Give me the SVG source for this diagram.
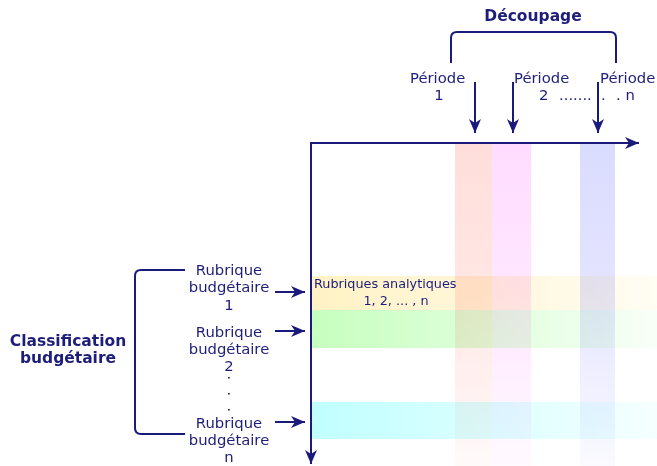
<svg xmlns="http://www.w3.org/2000/svg" width="657" height="466" viewBox="0 0 657 466">
<defs>
<style>
.ln{fill:none;stroke:#1a1a7c;stroke-width:2}
.t{font-family:"DejaVu Sans",Verdana,sans-serif;font-size:14.8px;fill:#1e1e7a}
.b{font-family:"DejaVu Sans",Verdana,sans-serif;font-size:15.5px;font-weight:bold;fill:#1e1e7a}
.s{font-family:"DejaVu Sans",Verdana,sans-serif;font-size:12.8px;fill:#1e1e7a}
.m{text-anchor:middle}
.col{mix-blend-mode:multiply}
</style>
<marker id="ah" markerUnits="userSpaceOnUse" markerWidth="16" markerHeight="14" refX="14" refY="7" orient="auto">
<path d="M0,1 L14,7 L0,13 L4,7 z" fill="#1a1a7c"/>
</marker>
<linearGradient id="gRed" x1="0" y1="0" x2="0" y2="1"><stop offset="0" stop-color="#ffdeda"/><stop offset="0.45" stop-color="#ffe6e4"/><stop offset="1" stop-color="#fffafa"/></linearGradient>
<linearGradient id="gPink" x1="0" y1="0" x2="0" y2="1"><stop offset="0" stop-color="#ffdcff"/><stop offset="0.45" stop-color="#ffe6ff"/><stop offset="1" stop-color="#fffaff"/></linearGradient>
<linearGradient id="gBlue" x1="0" y1="0" x2="0" y2="1"><stop offset="0" stop-color="#dadcff"/><stop offset="0.45" stop-color="#e4e4ff"/><stop offset="1" stop-color="#fafaff"/></linearGradient>
<linearGradient id="gYel" x1="0" y1="0" x2="1" y2="0"><stop offset="0" stop-color="#fff2c4"/><stop offset="1" stop-color="#fffdf4"/></linearGradient>
<linearGradient id="gGrn" x1="0" y1="0" x2="1" y2="0"><stop offset="0" stop-color="#c6ffbe"/><stop offset="1" stop-color="#f8fff8"/></linearGradient>
<linearGradient id="gCyn" x1="0" y1="0" x2="1" y2="0"><stop offset="0" stop-color="#c0ffff"/><stop offset="1" stop-color="#f6ffff"/></linearGradient>
</defs>
<rect width="657" height="466" fill="#ffffff"/>
<g id="rows">
<rect x="312" y="276" width="345" height="34" fill="url(#gYel)"/>
<rect x="312" y="310" width="345" height="38" fill="url(#gGrn)"/>
<rect x="312" y="402" width="345" height="37" fill="url(#gCyn)"/>
</g>
<g id="columns">
<rect class="col" x="455" y="144" width="37" height="322" fill="url(#gRed)"/>
<rect class="col" x="492" y="144" width="39" height="322" fill="url(#gPink)"/>
<rect class="col" x="580" y="144" width="35" height="322" fill="url(#gBlue)"/>
</g>
<g id="decoupage">
<path class="ln" d="M451,63 V38 Q451,32 457,32 H610 Q616,32 616,38 V63"/>
<text class="b m" x="533" y="21">Découpage</text>
</g>
<g id="periode1">
<text class="t" x="410" y="83">Période</text>
<text class="t m" x="439" y="100">1</text>
</g>
<g id="periode2">
<text class="t" x="514" y="83">Période</text>
<text class="t" y="100"><tspan x="539">2</tspan><tspan x="559">......</tspan><tspan x="587">.</tspan><tspan x="601">.</tspan><tspan x="616">. n</tspan></text>
</g>
<g id="perioden">
<text class="t" x="600" y="83">Période</text>
</g>
<g id="classification">
<text class="b m" x="68"><tspan x="68" y="346">Classification</tspan><tspan x="68" y="363">budgétaire</tspan></text>
<path class="ln" d="M185,270 H141 Q135,270 135,276 V428 Q135,434 141,434 H185"/>
</g>
<g id="rubrique1">
<text class="t m"><tspan x="229" y="275">Rubrique</tspan><tspan x="229" y="292">budgétaire</tspan><tspan x="229" y="310">1</tspan></text>
</g>
<g id="rubrique2">
<text class="t m"><tspan x="229" y="337">Rubrique</tspan><tspan x="229" y="354">budgétaire</tspan><tspan x="229" y="371">2</tspan></text>
<text class="t" transform="translate(227.5,375.6) rotate(90)" letter-spacing="3.3">. . .</text>
</g>
<g id="rubriquen">
<text class="t m"><tspan x="229" y="428">Rubrique</tspan><tspan x="229" y="445">budgétaire</tspan><tspan x="229" y="462">n</tspan></text>
</g>
<g id="analytiques">
<text class="s"><tspan x="314" y="288">Rubriques analytiques</tspan><tspan x="396" y="305" text-anchor="middle">1, 2, ... , n</tspan></text>
</g>
<g id="connectors">
<path class="ln" d="M310,143 H639" marker-end="url(#ah)"/>
<path class="ln" d="M311,143 V464" marker-end="url(#ah)"/>
<path class="ln" d="M475,82 V133" marker-end="url(#ah)"/>
<path class="ln" d="M513,82 V133" marker-end="url(#ah)"/>
<path class="ln" d="M598,82 V133" marker-end="url(#ah)"/>
<path class="ln" d="M275,292 H305" marker-end="url(#ah)"/>
<path class="ln" d="M275,331 H305" marker-end="url(#ah)"/>
<path class="ln" d="M275,422 H305" marker-end="url(#ah)"/>
</g>
</svg>
